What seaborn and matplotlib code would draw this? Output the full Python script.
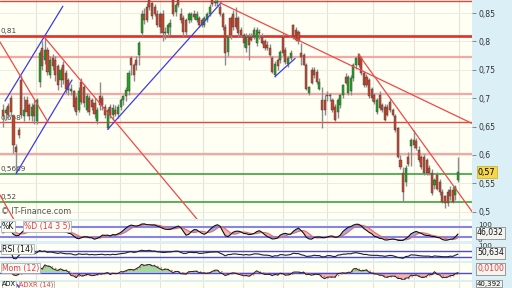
import numpy as np
import pandas as pd
import matplotlib
matplotlib.use("Agg")
import matplotlib.pyplot as plt
import seaborn as sns

# ---------------- price data ----------------
opens_a = [.680,.674,.686,.700,.668,.614,.644,.732,.668,.697,.688,.668,.688,.659,.729,.788,.768,.785,.741,.770,.767,.756,.732,.758,.744,.732,.712,.712,.700,.679,.729,.720,.679,.700,.697,.691,.659,.703,.700,.685,.647,.685,.670,.679,.673]
highs_a = [.690,.685,.692,.706,.672,.620,.650,.741,.703,.703,.692,.692,.697,.700,.785,.800,.808,.790,.775,.778,.775,.760,.755,.765,.750,.735,.725,.715,.705,.720,.735,.725,.710,.705,.700,.700,.685,.729,.705,.690,.685,.690,.690,.688,.690]
lows_a = [.650,.662,.665,.668,.603,.567,.630,.665,.659,.668,.662,.660,.655,.655,.720,.750,.760,.740,.735,.750,.730,.715,.720,.725,.710,.705,.705,.680,.670,.675,.690,.685,.675,.670,.680,.665,.655,.680,.680,.665,.645,.665,.662,.668,.665]
closes_a = [.668,.679,.670,.676,.618,.606,.635,.671,.680,.676,.668,.685,.668,.697,.779,.756,.785,.747,.767,.756,.741,.723,.750,.732,.717,.715,.717,.685,.676,.712,.694,.691,.703,.676,.685,.673,.679,.688,.688,.670,.679,.670,.682,.673,.685]

opens_b = [.685,.697,.703,.712,.770,.758,.767,.776,.814,.849,.861,.873,.867,.861,.849,.849,.849,.814,.814,.826,.873,.852,.873,.849,.841,.838,.838,.838,.849,.838,.841,.838,.829,.838,.849,.873,.867,.868,.861,.849,.826,.782,.841,.849]
highs_b = [.700,.706,.720,.750,.775,.762,.775,.800,.855,.858,.868,.875,.870,.866,.855,.852,.855,.825,.832,.840,.875,.868,.875,.858,.846,.842,.852,.852,.855,.853,.845,.842,.845,.852,.866,.875,.875,.875,.866,.852,.830,.812,.845,.855]
lows_b = [.680,.688,.695,.706,.740,.730,.750,.758,.810,.830,.835,.855,.840,.845,.825,.815,.800,.805,.810,.812,.845,.845,.860,.832,.810,.811,.832,.835,.840,.835,.826,.825,.826,.835,.845,.862,.862,.862,.845,.820,.758,.775,.805,.820]
closes_b = [.697,.703,.715,.744,.758,.741,.758,.797,.849,.838,.838,.861,.844,.849,.829,.826,.814,.817,.829,.832,.849,.864,.864,.838,.817,.817,.849,.849,.843,.849,.829,.829,.841,.849,.861,.865,.870,.871,.849,.826,.779,.808,.811,.826]

opens_c = [.841,.841,.820,.811,.788,.808,.808,.808,.797,.817,.808,.800,.794,.788,.770,.741,.767,.767,.808,.785,.761,.770,.829,.820,.817,.779,.776,.758,.709,.750,.750,.747,.717,.697,.697,.706,.703,.697,.685,.676,.688,.706,.738,.709]
highs_c = [.861,.845,.825,.815,.815,.815,.815,.825,.825,.822,.815,.805,.800,.795,.775,.765,.770,.785,.815,.790,.775,.785,.830,.825,.820,.797,.780,.762,.722,.755,.755,.752,.735,.720,.705,.712,.710,.700,.690,.700,.708,.725,.745,.740]
lows_c = [.822,.808,.808,.790,.782,.767,.800,.805,.792,.805,.795,.785,.785,.773,.745,.738,.750,.762,.775,.760,.755,.768,.805,.800,.795,.758,.758,.715,.705,.725,.735,.725,.715,.647,.670,.695,.695,.675,.659,.665,.683,.700,.725,.705]
closes_c = [.826,.814,.811,.797,.808,.794,.802,.820,.820,.814,.797,.788,.788,.776,.747,.761,.756,.782,.779,.764,.770,.779,.808,.802,.800,.773,.758,.717,.720,.726,.741,.729,.729,.679,.679,.703,.706,.679,.662,.697,.706,.723,.726,.738]

opens_d = [.712,.735,.758,.776,.770,.744,.738,.732,.717,.706,.676,.706,.688,.685,.685,.694,.679,.668,.647,.591,.568,.553,.597,.615,.627,.624,.609,.597,.597,.591,.577,.568,.547,.565,.553,.535,.527,.535,.538,.538,.530,.556]
highs_d = [.740,.762,.772,.779,.775,.748,.742,.735,.720,.710,.700,.712,.692,.690,.690,.700,.683,.672,.650,.600,.578,.582,.605,.630,.644,.630,.615,.600,.602,.595,.582,.575,.560,.570,.558,.540,.530,.540,.545,.545,.548,.597]
lows_d = [.705,.730,.752,.755,.740,.720,.720,.700,.695,.690,.672,.680,.675,.660,.668,.676,.668,.640,.595,.575,.518,.545,.580,.580,.612,.608,.588,.575,.565,.565,.565,.530,.540,.538,.530,.515,.506,.510,.520,.515,.520,.553]
closes_d = [.735,.758,.770,.758,.744,.723,.723,.703,.700,.694,.697,.682,.679,.662,.670,.680,.670,.644,.597,.579,.535,.577,.585,.627,.618,.612,.591,.579,.568,.568,.568,.533,.556,.541,.535,.518,.515,.515,.527,.518,.544,.570]

# horizontal support / resistance levels
red_levels = [0.871, 0.658]
main_level = [0.81]
pink_levels = [0.773, 0.707, 0.602]
green_levels = [0.5669, 0.518]
level_labels = ["0,81", "0,658", "0,5669", "0,52"]
level_label_values = [0.81, 0.658, 0.5669, 0.518]

# trend lines: (start index, start price, end index, end price)
blue_lines = [(0.76, 0.695, 22.9, 0.862), (5.0, 0.567, 26.4, 0.732),
              (40.0, 0.645, 83.4, 0.868), (104.0, 0.738, 111.7, 0.770)]
red_lines = [(-3.1, 0.545, 4.2, 0.486), (-1.15, 0.799, 17.2, 0.658),
             (15.7, 0.808, 75.5, 0.480), (83.0, 0.868, 181.0, 0.652),
             (135.8, 0.778, 181.0, 0.490)]

price_ticks = [0.5, 0.55, 0.6, 0.65, 0.7, 0.75, 0.8, 0.85]
price_tick_labels = ["0,5", "0,55", "0,6", "0,65", "0,7", "0,75", "0,8", "0,85"]
period_starts = [12.6, 28.7, 44.7, 60.0, 76.5, 91.8, 107.1, 123.9, 141.5, 157.2, 174.4]
last_values = {"price": "0,57", "stoch": "46,032", "rsi": "50,634", "mom": "0,0100", "adx": "40,392"}

# ---------------------------------------------------------------------
opens = np.array(opens_a + opens_b + opens_c + opens_d)
highs = np.array(highs_a + highs_b + highs_c + highs_d)
lows = np.array(lows_a + lows_b + lows_c + lows_d)
closes = np.array(closes_a + closes_b + closes_c + closes_d)
N = len(closes)
idx = np.arange(N)
df = pd.DataFrame({"i": idx, "open": opens, "high": highs, "low": lows, "close": closes})

sns.set_style("white")
plt.rcParams["font.family"] = ["DejaVu Sans"]

W, H = 512, 288
fig = plt.figure(figsize=(W / 100, H / 100), dpi=100, facecolor="#dbeff6")

def ax_at(x0, y0, x1, y1, fc="#fffff4"):
    a = fig.add_axes([x0 / W, 1 - y1 / H, (x1 - x0) / W, (y1 - y0) / H])
    a.set_facecolor(fc)
    for s in a.spines.values():
        s.set_visible(False)
    return a

STEP, X0 = 2.615, 3.0
XL = ((0 - X0) / STEP, (472 - X0) / STEP)

ax = ax_at(0, 0, 472, 219)
ax.set_xlim(*XL)
ax.set_ylim(0.4873, 0.8729)

for p in period_starts:
    ax.axvline(p, color="#e4e4d8", lw=0.8, zorder=0)
for t in price_ticks:
    ax.axhline(t, color="#ececE2", lw=0.7, zorder=0)

for v in red_levels:
    ax.axhline(v, color="#e8443c", lw=1.0, zorder=1)
for v in main_level:
    ax.axhline(v, color="#e0302a", lw=1.9, zorder=1)
for v in pink_levels:
    ax.axhline(v, color="#f4a8a4", lw=1.6, zorder=1)
for v in green_levels:
    ax.axhline(v, color="#2c9a2c", lw=1.1, zorder=1)

for txt, v in zip(level_labels, level_label_values):
    ax.text(-0.8, v + 0.0025, txt, fontsize=5.2, color="#444", va="bottom", ha="left", zorder=2)

for (a0, p0, a1, p1) in blue_lines:
    ax.plot([a0, a1], [p0, p1], color="#3c3ce6", lw=0.9, zorder=5)
for (a0, p0, a1, p1) in red_lines:
    ax.plot([a0, a1], [p0, p1], color="#f04848", lw=0.9, zorder=5)

# candles
hi = np.maximum(highs, np.maximum(opens, closes))
lo = np.minimum(lows, np.minimum(opens, closes))
ax.vlines(idx, lo, hi, color="#8c8c8c", lw=1.0, zorder=3)
up = closes >= opens
body_lo = np.minimum(opens, closes)
body_h = np.maximum(np.abs(closes - opens), 0.0018)
ax.bar(idx[up], body_h[up], bottom=body_lo[up], width=0.8, color="#22a322",
       edgecolor="#404040", lw=0.3, zorder=4)
ax.bar(idx[~up], body_h[~up], bottom=body_lo[~up], width=0.8, color="#c8462c",
       edgecolor="#404040", lw=0.3, zorder=4)

ax.yaxis.tick_right()
ax.set_yticks(price_ticks)
ax.set_yticklabels(price_tick_labels)
ax.tick_params(axis="y", length=3, width=0.6, color="#777", labelsize=5.6,
               labelcolor="#333", pad=2)
ax.set_xticks([])
ax.text(-0.6, 0.492, "© IT-Finance.com", fontsize=5.8, color="#555", ha="left", va="bottom", zorder=6)

# price marker
fig.text(478 / W, 1 - 172 / H, last_values["price"], fontsize=5.8, color="black",
         va="center", ha="left",
         bbox=dict(boxstyle="square,pad=0.15", fc="#f6d64a", ec="#c9a91c", lw=0.5))

# ---------------- indicators ----------------
close = df["close"]; high = df["high"]; low = df["low"]
hh = high.rolling(14, min_periods=1).max()
ll = low.rolling(14, min_periods=1).min()
k = (100 * (close - ll) / (hh - ll)).rolling(3, min_periods=1).mean()
d = k.rolling(5, min_periods=1).mean()

delta = close.diff().fillna(0)
gain = delta.clip(lower=0).ewm(alpha=1 / 14, adjust=True).mean()
loss = (-delta.clip(upper=0)).ewm(alpha=1 / 14, adjust=True).mean()
rsi = (100 - 100 / (1 + gain / loss.replace(0, np.nan))).fillna(50)

mom = (close - close.shift(12)).fillna(close - close.iloc[0])
mom_sig = mom.rolling(3, min_periods=1).mean()

prev_c = close.shift(1).fillna(close.iloc[0])
tr = pd.concat([high - low, (high - prev_c).abs(), (low - prev_c).abs()], axis=1).max(axis=1)
upm = high.diff().fillna(0); dnm = (-low.diff()).fillna(0)
pdm = pd.Series(np.where((upm > dnm) & (upm > 0), upm, 0.0))
mdm = pd.Series(np.where((dnm > upm) & (dnm > 0), dnm, 0.0))
atr = tr.ewm(alpha=1 / 14).mean()
pdi = 100 * pdm.ewm(alpha=1 / 14).mean() / atr
mdi = 100 * mdm.ewm(alpha=1 / 14).mean() / atr
dx = (100 * (pdi - mdi).abs() / (pdi + mdi)).fillna(0)
adx = dx.ewm(alpha=1 / 14).mean()
adxr = ((adx + adx.shift(14)) / 2).fillna(adx)

def sub_common(a):
    a.set_xlim(*XL)
    for p in period_starts:
        a.axvline(p, color="#e4e4d8", lw=0.8, zorder=0)
    a.set_xticks([]); a.set_yticks([])
    a.set_xlabel(""); a.set_ylabel("")

lab_kw = dict(fontsize=5.6, va="top", ha="left", zorder=10)
box = dict(boxstyle="square,pad=0.12", fc="#fbfbf6", ec="#9aa", lw=0.5)

# stochastic
axs = ax_at(0, 221, 472, 241)
axs.set_ylim(0, 111)
axs.fill_between(idx, k, d, where=k >= d, interpolate=True, color="#a8a8f0", lw=0)
axs.fill_between(idx, k, d, where=k < d, interpolate=True, color="#f4b4b0", lw=0)
axs.axhline(80, color="#8484ea", lw=1.5, zorder=1)
axs.axhline(20, color="#8484ea", lw=1.5, zorder=1)
sns.lineplot(x=idx, y=d.values, ax=axs, color="#e26a6a", lw=0.8, zorder=3)
sns.lineplot(x=idx, y=k.values, ax=axs, color="#111", lw=0.8, zorder=4)
sub_common(axs)
axs.text(0.004, 0.97, "%K", transform=axs.transAxes, color="#111", bbox=box, **lab_kw)
axs.text(0.050, 0.97, "%D (14 3 5)", transform=axs.transAxes, color="#e04040", bbox=box, **lab_kw)

# RSI
axr = ax_at(0, 244, 472, 261)
axr.set_ylim(0, 120)
axr.axhline(70, color="#4a4ae0", lw=1.0)
axr.axhline(30, color="#4a4ae0", lw=1.0)
sns.lineplot(x=idx, y=rsi.values, ax=axr, color="#222", lw=0.8)
sub_common(axr)
axr.text(0.004, 0.97, "RSI (14)", transform=axr.transAxes, color="#111", bbox=box, **lab_kw)

# Momentum
axm = ax_at(0, 263, 472, 280)
mm = float(mom.abs().max()) * 1.1
axm.set_ylim(-mm * 0.8, mm * 1.05)
axm.fill_between(idx, mom, 0, where=mom >= 0, interpolate=True, color="#a4d8a0", lw=0)
axm.fill_between(idx, mom, 0, where=mom < 0, interpolate=True, color="#f2b4b0", lw=0)
axm.axhline(0, color="#4a4ae0", lw=1.0)
sns.lineplot(x=idx, y=mom_sig.values, ax=axm, color="#e86060", lw=1.0, linestyle=":")
sns.lineplot(x=idx, y=mom.values, ax=axm, color="#222", lw=0.7)
sub_common(axm)
axm.text(0.004, 0.97, "Mom (12)", transform=axm.transAxes, color="#e04040", bbox=box, **lab_kw)

# ADX (cut by the bottom edge)
axa = ax_at(0, 282, 472, 320)
axa.set_ylim(0, float(adx.max()) * 1.05)
sns.lineplot(x=idx, y=adxr.values, ax=axa, color="#e04848", lw=1.0)
sns.lineplot(x=idx, y=adx.values, ax=axa, color="#4a4ae0", lw=1.0)
sub_common(axa)
akw = dict(fontsize=4.8, va="top", ha="left", zorder=10)
abox = dict(boxstyle="square,pad=0.05", fc="#fbfbf6", ec="#9aa", lw=0.5)
fig.text(2 / W, 1 - 281.2 / H, "ADX", color="#111", bbox=abox, **akw)
fig.text(19 / W, 1 - 281.2 / H, "ADXR (14)", color="#e04040", bbox=abox, **akw)

# right-hand value labels
vbox = dict(boxstyle="square,pad=0.15", fc="#f3f3f0", ec="#777", lw=0.5)
fig.text(478 / W, 1 - 225 / H, "100", fontsize=5.2, color="#333", va="center")
fig.text(478 / W, 1 - 240 / H, "0", fontsize=5.2, color="#333", va="center")
fig.text(477 / W, 1 - 233 / H, last_values["stoch"], fontsize=5.6, color="#111", va="center", bbox=vbox)
fig.text(478 / W, 1 - 246 / H, "100", fontsize=5.2, color="#333", va="center")
fig.text(477 / W, 1 - 253 / H, last_values["rsi"], fontsize=5.6, color="#111", va="center", bbox=vbox)
fig.text(477 / W, 1 - 269 / H, last_values["mom"], fontsize=5.6, color="#e04040", va="center", bbox=vbox)
fig.text(477 / W, 1 - 283.6 / H, last_values["adx"],  fontsize=5.0, color="#111", va="center",
         bbox=dict(boxstyle="square,pad=0.08", fc="#f3f3f0", ec="#777", lw=0.5))

fig.savefig("out.png", dpi=100, facecolor=fig.get_facecolor())
